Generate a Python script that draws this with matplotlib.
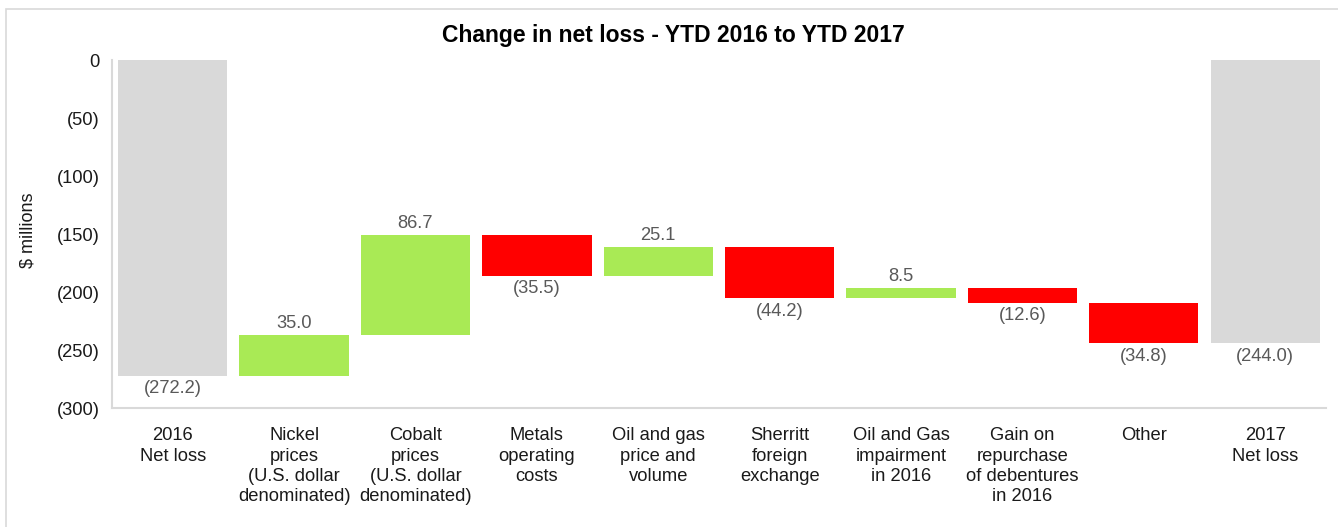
import numpy as np
import matplotlib.pyplot as plt
from matplotlib.patches import Rectangle

plt.rcParams['font.family'] = ['Liberation Sans', 'DejaVu Sans']

categories = ["2016\nNet loss",
              "Nickel\nprices\n(U.S. dollar\ndenominated)",
              "Cobalt\nprices\n(U.S. dollar\ndenominated)",
              "Metals\noperating\ncosts",
              "Oil and gas\nprice and\nvolume",
              "Sherritt\nforeign\nexchange",
              "Oil and Gas\nimpairment\nin 2016",
              "Gain on\nrepurchase\nof debentures\nin 2016",
              "Other",
              "2017\nNet loss"]
start_total = -272.2
changes = [35.0, 86.7, -35.5, 25.1, -44.2, 8.5, -12.6, -34.8]
end_total = -244.0

gray = "#d9d9d9"
green = "#a9ea55"
red = "#ff0000"
label_col = "#595959"
text_col = "#1a1a1a"
fs = 13.2

def fmt(v):
    return "(%.1f)" % abs(v) if v < 0 else "%.1f" % v

fig = plt.figure(figsize=(13.38, 5.27), dpi=100)
fig.patches.append(Rectangle((0.0045, -0.05), 1.2, 1.033, transform=fig.transFigure,
                             fill=False, edgecolor="#d9d9d9", linewidth=1.2))
ax = fig.add_axes([0.0837, 0.2258, 0.9073, 0.6602])

w = 0.9
x = np.arange(len(categories))

# totals
ax.bar(x[0], start_total, width=w, color=gray)
ax.text(x[0], start_total - 4, fmt(start_total), ha="center", va="top", fontsize=fs, color=label_col)
ax.bar(x[-1], end_total, width=w, color=gray)
ax.text(x[-1], end_total - 4, fmt(end_total), ha="center", va="top", fontsize=fs, color=label_col)

# floating changes
level = start_total
for i, c in enumerate(changes):
    xi = x[i + 1]
    new = level + c
    ax.bar(xi, c, bottom=level, width=w, color=green if c > 0 else red)
    if c > 0:
        ax.text(xi, new + 2.5, fmt(c), ha="center", va="bottom", fontsize=fs, color=label_col)
    else:
        ax.text(xi, new - 4, fmt(c), ha="center", va="top", fontsize=fs, color=label_col)
    level = new

ax.set_xlim(-0.5, len(categories) - 0.5)
ax.set_ylim(-300, 0)
yt = np.arange(-300, 1, 50)
ax.set_yticks(yt)
ax.set_yticklabels([fmt(v).replace(".0", "") if v != 0 else "0" for v in yt],
                   fontsize=fs, color=text_col)
ax.set_xticks(x)
ax.set_xticklabels(categories, fontsize=fs, linespacing=1.24, va="top", color=text_col)
ax.tick_params(length=0)
ax.tick_params(axis="y", pad=9)
ax.tick_params(axis="x", pad=14)

for s in ["top", "right"]:
    ax.spines[s].set_visible(False)
ax.spines["left"].set_color("#d9d9d9")
ax.spines["bottom"].set_color("#d9d9d9")
ax.spines["left"].set_linewidth(1.5)
ax.spines["bottom"].set_linewidth(1.5)

ax.set_ylabel("$ millions", fontsize=13, color=text_col)
ax.yaxis.set_label_coords(-0.0625, 0.51)
fig.text(0.503, 0.932, "Change in net loss - YTD 2016 to YTD 2017", ha="center", va="center",
         fontsize=16.5, fontweight="bold")

fig.savefig("out.png", dpi=100)
